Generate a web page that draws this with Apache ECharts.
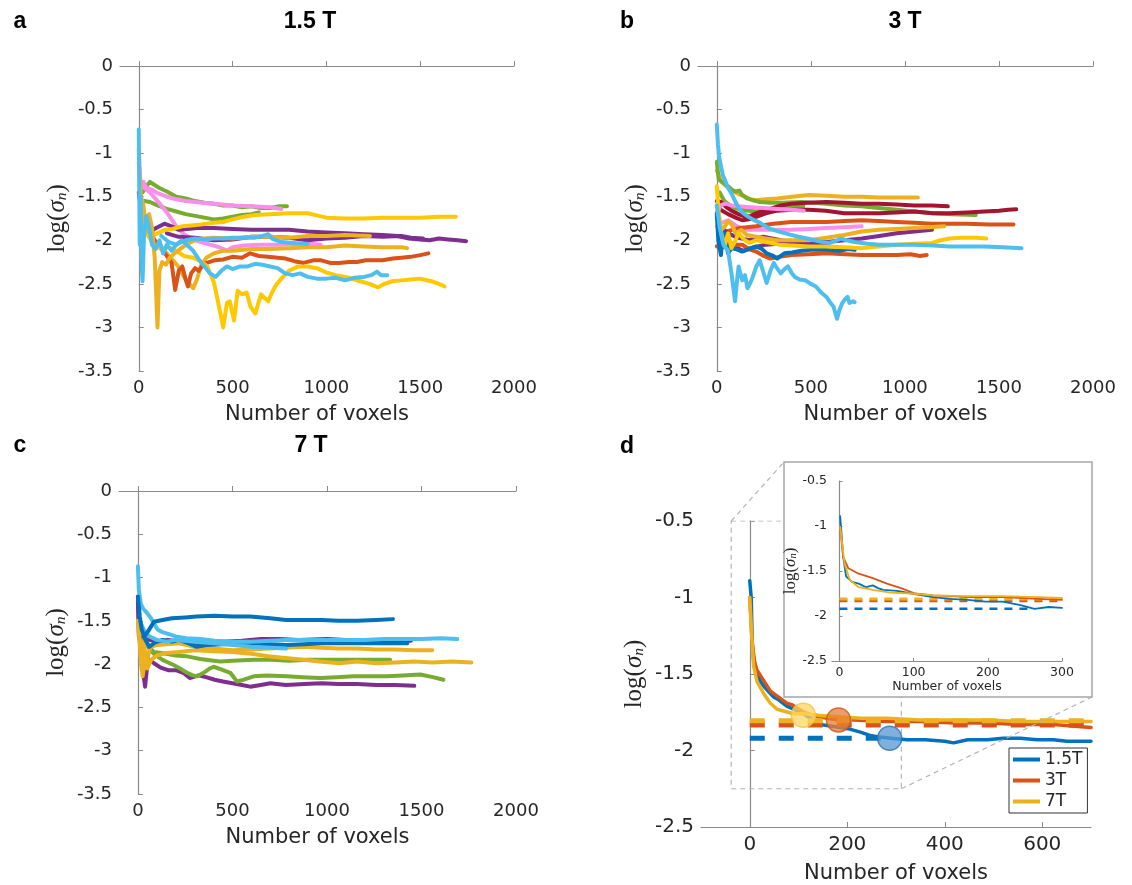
<!DOCTYPE html>
<html>
<head>
<meta charset="utf-8">
<script src="https://cdn.jsdelivr.net/npm/echarts@6/dist/echarts.min.js"></script>
<style>
  html, body { margin: 0; padding: 0; background: #fff; }
  #chart { width: 1132px; height: 885px; }
</style>
</head>
<body>
<div id="chart"></div>
<script>
// tick values
const xTicksMain = [0, 500, 1000, 1500, 2000];
const yTicksMain = [0, -0.5, -1, -1.5, -2, -2.5, -3, -3.5];
const xTicksD = [0, 200, 400, 600];
const yTicksD = [-0.5, -1, -1.5, -2, -2.5];
const xTicksInset = [0, 100, 200, 300];
const yTicksInset = [-0.5, -1, -1.5, -2, -2.5];

// panel a: 1.5 T  ([voxels, log sigma])
const aGreen1 = [[20,-1.45],[40,-1.38],[60,-1.33],[80,-1.36],[110,-1.4],[150,-1.44],[200,-1.5],[250,-1.52],[300,-1.55],[350,-1.57],[400,-1.58],[450,-1.6],[500,-1.6],[550,-1.62],[600,-1.61],[650,-1.63],[700,-1.63],[750,-1.61],[790,-1.61]];
const aGreen2 = [[30,-1.55],[60,-1.56],[100,-1.6],[150,-1.64],[200,-1.67],[250,-1.7],[300,-1.72],[350,-1.74],[400,-1.76],[450,-1.75],[500,-1.73],[550,-1.71],[600,-1.7],[640,-1.68]];
const aPink1 = [[0,-0.95],[8,-1.3],[15,-1.38],[25,-1.33],[40,-1.4],[70,-1.42],[100,-1.46],[150,-1.5],[200,-1.53],[250,-1.55],[300,-1.56],[400,-1.58],[500,-1.6],[600,-1.61],[700,-1.62],[760,-1.64]];
const aPink2 = [[30,-1.4],[60,-1.45],[100,-1.55],[150,-1.68],[200,-1.84],[240,-1.93],[280,-1.98],[330,-2.02],[380,-2.05],[430,-2.08],[470,-2.12],[500,-2.08],[560,-2.06],[650,-2.05],[750,-2.05],[850,-2.04],[920,-2.04],[970,-2.05]];
const aPurple1 = [[0,-1.45],[15,-1.7],[30,-1.85],[60,-1.9],[100,-1.85],[137,-1.81],[175,-1.84],[213,-1.88],[260,-1.87],[310,-1.86],[400,-1.86],[500,-1.87],[600,-1.88],[700,-1.88],[800,-1.88],[900,-1.9],[1000,-1.91],[1100,-1.92],[1200,-1.93],[1300,-1.94],[1380,-1.95],[1440,-1.98],[1500,-1.99],[1550,-2.0],[1600,-1.98],[1650,-1.99],[1700,-2.0],[1745,-2.01]];
const aPurple2 = [[150,-1.92],[213,-1.96],[300,-1.97],[400,-2.0],[500,-1.99],[600,-1.96],[700,-1.96],[800,-1.97],[900,-2.0],[1000,-1.98],[1100,-1.97],[1200,-1.95],[1300,-1.96],[1400,-1.95],[1450,-1.97],[1515,-1.98]];
const aGold1 = [[0,-1.1],[12,-1.5],[25,-1.6],[40,-1.9],[55,-1.7],[70,-1.85],[85,-2.2],[100,-3.0],[110,-2.35],[125,-2.25],[145,-2.28],[165,-2.2],[190,-2.15],[220,-2.1],[260,-2.04],[300,-2.0],[350,-1.98],[400,-1.97],[500,-1.98],[600,-1.96],[700,-1.96],[800,-1.97],[900,-1.95],[1000,-1.95],[1100,-1.94],[1232,-1.95]];
const aGold2 = [[10,-1.55],[40,-1.8],[80,-2.0],[130,-2.1],[170,-2.2],[210,-2.3],[250,-2.45],[270,-2.5],[290,-2.55],[310,-2.45],[330,-2.3],[360,-2.2],[400,-2.15],[450,-2.12],[500,-2.12],[600,-2.1],[700,-2.1],[800,-2.09],[900,-2.08],[1000,-2.08],[1100,-2.06],[1200,-2.07],[1300,-2.08],[1400,-2.08],[1430,-2.09]];
const aOrange = [[40,-1.75],[70,-1.95],[100,-2.05],[140,-2.15],[175,-2.26],[194,-2.57],[213,-2.35],[232,-2.3],[250,-2.45],[262,-2.53],[279,-2.38],[300,-2.32],[320,-2.35],[346,-2.27],[403,-2.23],[450,-2.22],[498,-2.19],[550,-2.2],[593,-2.15],[640,-2.18],[688,-2.19],[740,-2.2],[783,-2.21],[830,-2.24],[878,-2.26],[930,-2.23],[973,-2.23],[1020,-2.26],[1068,-2.26],[1120,-2.25],[1163,-2.25],[1210,-2.23],[1258,-2.23],[1300,-2.23],[1354,-2.21],[1400,-2.2],[1449,-2.19],[1500,-2.17],[1544,-2.15]];
const aYellowLo = [[20,-1.7],[50,-1.95],[80,-2.05],[120,-2.1],[160,-2.08],[200,-2.12],[240,-2.18],[290,-2.2],[330,-2.24],[365,-2.3],[400,-2.48],[420,-2.68],[450,-3.0],[470,-2.72],[485,-2.7],[508,-2.92],[527,-2.58],[550,-2.62],[575,-2.6],[595,-2.76],[622,-2.84],[640,-2.7],[652,-2.62],[670,-2.66],[690,-2.7],[710,-2.6],[730,-2.52],[760,-2.44],[800,-2.35],[850,-2.3],[900,-2.3],[950,-2.32],[1000,-2.37],[1050,-2.4],[1120,-2.43],[1180,-2.47],[1230,-2.5],[1275,-2.54],[1310,-2.5],[1350,-2.47],[1400,-2.46],[1450,-2.45],[1500,-2.44],[1560,-2.47],[1600,-2.5],[1630,-2.53]];
const aYellowHi = [[10,-1.6],[25,-1.78],[45,-1.92],[70,-1.95],[100,-1.92],[140,-1.88],[180,-1.87],[230,-1.84],[280,-1.83],[330,-1.82],[400,-1.8],[450,-1.79],[500,-1.76],[560,-1.73],[620,-1.71],[700,-1.7],[800,-1.69],[900,-1.69],[960,-1.72],[1000,-1.74],[1100,-1.75],[1200,-1.75],[1300,-1.74],[1400,-1.74],[1500,-1.74],[1600,-1.73],[1690,-1.73]];
const aLBlue2 = [[120,-1.95],[160,-2.02],[200,-2.05],[250,-2.0],[300,-1.98],[350,-1.99],[400,-1.98],[450,-1.98],[500,-1.97],[560,-1.97],[620,-1.97],[660,-1.95],[690,-1.93],[710,-1.98],[760,-2.02],[820,-2.03],[870,-2.04],[900,-2.04]];
const aLBlue1 = [[0,-0.73],[3,-1.5],[5,-2.05],[10,-1.5],[14,-2.2],[20,-2.47],[28,-1.95],[40,-1.72],[55,-1.85],[70,-2.05],[90,-2.1],[110,-2.0],[130,-2.15],[150,-2.05],[175,-2.12],[200,-2.05],[230,-2.0],[260,-2.06],[290,-2.12],[320,-2.22],[350,-2.3],[380,-2.38],[410,-2.42],[440,-2.35],[470,-2.3],[500,-2.33],[540,-2.3],[580,-2.3],[620,-2.27],[660,-2.28],[700,-2.3],[740,-2.32],[780,-2.38],[820,-2.4],[860,-2.38],[900,-2.42],[950,-2.44],[1000,-2.44],[1050,-2.43],[1100,-2.46],[1150,-2.43],[1200,-2.42],[1240,-2.4],[1270,-2.36],[1290,-2.4],[1325,-2.4]];

// panel b: 3 T
const bGold1 = [[0,-1.2],[22,-1.31],[50,-1.38],[78,-1.42],[115,-1.47],[153,-1.5],[180,-1.53],[209,-1.54],[260,-1.53],[321,-1.52],[400,-1.5],[490,-1.48],[583,-1.49],[677,-1.5],[770,-1.5],[863,-1.51],[960,-1.51],[1069,-1.51]];
const bGreen1 = [[0,-1.1],[10,-1.3],[25,-1.33],[45,-1.36],[60,-1.38],[80,-1.42],[100,-1.44],[120,-1.43],[135,-1.48],[160,-1.52],[191,-1.54],[230,-1.56],[284,-1.57],[350,-1.57],[450,-1.56],[583,-1.58],[680,-1.6],[770,-1.61],[860,-1.63],[957,-1.65],[1050,-1.67],[1144,-1.69],[1250,-1.7],[1377,-1.71]];
const bGreen2 = [[15,-1.45],[40,-1.55],[70,-1.6],[100,-1.63],[130,-1.65],[170,-1.66],[210,-1.67],[260,-1.65],[320,-1.63],[400,-1.62],[460,-1.61]];
const bDkRed1 = [[0,-1.55],[22,-1.56],[50,-1.62],[78,-1.66],[115,-1.7],[153,-1.73],[180,-1.72],[209,-1.69],[250,-1.66],[284,-1.64],[340,-1.6],[396,-1.58],[480,-1.57],[583,-1.56],[680,-1.57],[770,-1.58],[860,-1.58],[957,-1.59],[1050,-1.6],[1144,-1.6],[1228,-1.61]];
const bDkRed2 = [[0,-1.6],[20,-1.65],[60,-1.7],[100,-1.74],[135,-1.77],[170,-1.76],[209,-1.73],[260,-1.69],[321,-1.66],[400,-1.65],[490,-1.65],[580,-1.66],[677,-1.69],[770,-1.69],[863,-1.69],[950,-1.68],[1050,-1.67],[1150,-1.69],[1237,-1.69],[1330,-1.68],[1424,-1.67],[1500,-1.66],[1550,-1.65],[1592,-1.645]];
const bPink1 = [[0,-1.69],[20,-1.6],[45,-1.58],[80,-1.6],[120,-1.61],[180,-1.62],[247,-1.63],[320,-1.64],[396,-1.65],[462,-1.66]];
const bPink2 = [[0,-1.84],[25,-1.8],[60,-1.77],[100,-1.83],[153,-1.88],[220,-1.88],[300,-1.88],[396,-1.88],[490,-1.87],[583,-1.86],[680,-1.85],[770,-1.84]];
const bOrange1 = [[0,-1.75],[20,-1.85],[50,-1.9],[80,-1.88],[120,-1.86],[160,-1.85],[209,-1.84],[300,-1.81],[396,-1.79],[490,-1.79],[583,-1.79],[680,-1.78],[770,-1.77],[860,-1.78],[957,-1.79],[1050,-1.8],[1144,-1.81],[1240,-1.81],[1331,-1.81],[1450,-1.82],[1577,-1.82]];
const bPurple1 = [[0,-1.73],[20,-1.85],[60,-1.92],[110,-1.97],[172,-2.0],[247,-1.96],[320,-1.99],[396,-2.02],[490,-2.02],[583,-2.02],[680,-2.0],[770,-1.98],[863,-1.95],[957,-1.92],[1050,-1.9],[1144,-1.88]];
const bPurple2 = [[20,-1.9],[60,-2.0],[100,-2.08],[140,-2.12],[200,-2.08],[260,-2.05],[320,-2.04],[400,-2.03],[480,-2.04],[580,-2.05]];
const bGold2 = [[10,-1.7],[22,-1.88],[40,-1.85],[60,-1.78],[80,-1.82],[100,-1.92],[130,-1.88],[160,-1.94],[209,-1.96],[260,-1.98],[321,-2.0],[400,-2.0],[490,-2.0],[583,-1.97],[677,-1.94],[770,-1.9],[863,-1.88],[950,-1.87],[1050,-1.86],[1130,-1.85],[1209,-1.84]];
const bOrange2 = [[0,-2.07],[22,-2.09],[60,-2.06],[100,-2.05],[135,-2.05],[170,-2.1],[209,-2.13],[250,-2.18],[284,-2.21],[330,-2.19],[396,-2.17],[490,-2.16],[583,-2.15],[680,-2.16],[770,-2.17],[860,-2.17],[957,-2.17],[1030,-2.16],[1080,-2.18],[1116,-2.17]];
const bBlue = [[0,-1.69],[8,-2.0],[22,-2.17],[30,-1.95],[41,-1.92],[60,-2.15],[78,-2.09],[100,-2.1],[135,-2.13],[170,-2.1],[209,-2.07],[240,-2.1],[265,-2.15],[300,-2.18],[321,-2.21],[359,-2.15],[400,-2.14],[450,-2.12],[500,-2.11],[583,-2.11],[650,-2.12],[700,-2.1],[733,-2.11]];
const bYellow = [[0,-1.38],[10,-1.69],[22,-1.9],[41,-2.07],[60,-1.92],[78,-2.09],[100,-2.0],[115,-1.92],[150,-2.0],[172,-2.03],[209,-2.0],[260,-2.02],[330,-2.05],[400,-2.06],[490,-2.07],[583,-2.07],[680,-2.08],[770,-2.09],[863,-2.07],[957,-2.05],[1050,-2.04],[1144,-2.03],[1190,-2.0],[1237,-1.98],[1300,-1.97],[1380,-1.97],[1433,-1.98]];
const bLBlue2 = [[0,-1.6],[15,-1.85],[35,-2.05],[60,-2.12],[78,-2.38],[97,-2.7],[108,-2.45],[116,-2.3],[135,-2.46],[150,-2.4],[163,-2.55],[180,-2.48],[191,-2.42],[210,-2.3],[228,-2.23],[245,-2.35],[265,-2.49],[285,-2.35],[303,-2.26],[320,-2.32],[340,-2.38],[360,-2.33],[378,-2.3],[400,-2.38],[415,-2.42],[440,-2.45],[471,-2.46],[500,-2.5],[527,-2.53],[555,-2.6],[583,-2.65],[605,-2.72],[620,-2.76],[639,-2.9],[652,-2.8],[667,-2.72],[680,-2.68],[695,-2.65],[705,-2.72],[714,-2.74],[725,-2.7],[733,-2.71]];
const bLBlue1 = [[0,-0.67],[6,-0.9],[13,-1.05],[22,-1.15],[32,-1.25],[45,-1.32],[60,-1.4],[80,-1.47],[97,-1.55],[115,-1.62],[135,-1.68],[160,-1.72],[190,-1.76],[230,-1.8],[284,-1.87],[330,-1.9],[380,-1.93],[434,-1.96],[480,-1.98],[520,-2.0],[560,-2.02],[600,-2.03],[640,-2.0],[660,-1.98],[690,-2.0],[733,-2.02],[800,-2.04],[863,-2.05],[950,-2.05],[1050,-2.05],[1150,-2.06],[1237,-2.07],[1330,-2.07],[1424,-2.07],[1520,-2.08],[1620,-2.09]];

// panel c: 7 T
const cPurple1 = [[0,-1.3],[5,-1.68],[15,-1.76],[30,-1.7],[60,-1.72],[100,-1.74],[160,-1.72],[250,-1.75],[350,-1.76],[450,-1.74],[550,-1.73],[650,-1.71],[750,-1.71],[850,-1.72],[1000,-1.71],[1100,-1.72],[1200,-1.72],[1300,-1.73],[1380,-1.73],[1444,-1.73]];
const cPurple2 = [[0,-1.22],[8,-1.6],[18,-1.91],[28,-2.1],[38,-2.26],[50,-2.0],[62,-1.95],[85,-1.99],[120,-2.04],[160,-2.07],[200,-2.07],[240,-2.1],[274,-2.16],[320,-2.13],[360,-2.15],[406,-2.18],[450,-2.2],[500,-2.22],[550,-2.24],[594,-2.26],[650,-2.24],[700,-2.22],[783,-2.24],[880,-2.23],[972,-2.22],[1060,-2.23],[1160,-2.23],[1260,-2.24],[1360,-2.24],[1462,-2.25]];
const cGreen1 = [[20,-1.6],[50,-1.78],[84,-1.86],[150,-1.88],[200,-1.9],[260,-1.91],[330,-1.94],[400,-1.96],[436,-1.97],[500,-1.96],[612,-1.95],[700,-1.95],[800,-1.96],[900,-1.95],[965,-1.95],[1100,-1.95],[1200,-1.95],[1334,-1.95]];
const cGreen2 = [[30,-1.7],[60,-1.82],[84,-1.88],[130,-1.95],[189,-2.01],[230,-2.06],[260,-2.1],[290,-2.13],[313,-2.14],[348,-2.1],[380,-2.05],[401,-2.03],[440,-2.06],[489,-2.1],[524,-2.2],[560,-2.18],[612,-2.14],[680,-2.13],[789,-2.14],[870,-2.15],[965,-2.16],[1050,-2.15],[1141,-2.14],[1230,-2.14],[1317,-2.14],[1400,-2.13],[1493,-2.12],[1560,-2.15],[1616,-2.18]];
const cGold1 = [[0,-1.5],[10,-1.76],[20,-2.07],[30,-1.72],[45,-1.99],[66,-1.8],[100,-1.78],[150,-1.77],[217,-1.76],[300,-1.8],[400,-1.82],[500,-1.84],[600,-1.83],[689,-1.82],[780,-1.81],[877,-1.8],[970,-1.81],[1060,-1.82],[1160,-1.82],[1260,-1.83],[1360,-1.83],[1460,-1.84],[1557,-1.84]];
const cGold2 = [[5,-1.6],[15,-1.91],[25,-2.14],[35,-1.99],[50,-2.05],[70,-1.95],[100,-1.9],[150,-1.87],[217,-1.86],[300,-1.84],[400,-1.85],[500,-1.86],[600,-1.88],[689,-1.91],[780,-1.93],[877,-1.95],[960,-1.97],[1066,-1.99],[1160,-1.97],[1260,-1.99],[1360,-1.98],[1460,-1.97],[1560,-1.98],[1660,-1.97],[1764,-1.98]];
const cBlue2 = [[30,-1.68],[60,-1.8],[90,-1.75],[130,-1.72],[180,-1.74],[217,-1.72],[270,-1.76],[311,-1.8],[360,-1.78],[450,-1.77],[594,-1.76],[700,-1.77],[783,-1.78],[880,-1.77],[972,-1.76],[1060,-1.76],[1160,-1.76],[1300,-1.76],[1425,-1.76]];
const cLBlue2 = [[10,-1.5],[30,-1.6],[60,-1.68],[100,-1.72],[150,-1.74],[200,-1.72],[300,-1.74],[406,-1.76],[500,-1.78],[600,-1.8],[700,-1.81],[783,-1.82]];
const cLBlue1 = [[0,-0.87],[5,-1.14],[15,-1.3],[28,-1.36],[45,-1.4],[66,-1.46],[85,-1.53],[104,-1.6],[130,-1.63],[160,-1.65],[200,-1.68],[255,-1.7],[330,-1.71],[406,-1.73],[500,-1.74],[594,-1.74],[700,-1.73],[783,-1.72],[880,-1.72],[972,-1.72],[1100,-1.72],[1200,-1.72],[1300,-1.71],[1400,-1.71],[1500,-1.71],[1600,-1.7],[1689,-1.71]];
const cBlue1 = [[0,-1.22],[10,-1.45],[20,-1.6],[35,-1.68],[57,-1.61],[85,-1.51],[130,-1.49],[179,-1.47],[250,-1.46],[311,-1.45],[406,-1.44],[500,-1.45],[594,-1.45],[700,-1.47],[783,-1.49],[880,-1.49],[972,-1.49],[1060,-1.5],[1160,-1.5],[1260,-1.49],[1349,-1.48]];

// panel d: median curves, reference levels and knee points
const dBlue = [[0,-0.89],[3,-1.0],[5,-1.28],[8,-1.41],[15,-1.5],[22,-1.55],[29,-1.58],[40,-1.62],[49,-1.65],[60,-1.67],[76,-1.71],[90,-1.73],[110,-1.76],[130,-1.8],[145,-1.83],[165,-1.84],[186,-1.85],[205,-1.86],[227,-1.88],[245,-1.9],[261,-1.91],[290,-1.92],[323,-1.93],[360,-1.93],[400,-1.94],[418,-1.95],[447,-1.93],[487,-1.93],[520,-1.92],[555,-1.92],[590,-1.93],[623,-1.93],[650,-1.94],[680,-1.94],[700,-1.94]];
const dOrange = [[0,-1.0],[5,-1.3],[10,-1.42],[14,-1.47],[28,-1.54],[42,-1.61],[50,-1.63],[76,-1.69],[86,-1.7],[111,-1.75],[140,-1.78],[182,-1.8],[213,-1.8],[280,-1.81],[350,-1.81],[420,-1.82],[487,-1.82],[555,-1.83],[623,-1.83],[660,-1.84],[700,-1.85]];
const dYellow = [[0,-1.0],[4,-1.25],[8,-1.45],[15,-1.55],[29,-1.63],[42,-1.69],[56,-1.73],[90,-1.76],[110,-1.76],[140,-1.77],[179,-1.78],[230,-1.79],[282,-1.79],[350,-1.8],[418,-1.8],[487,-1.8],[555,-1.81],[623,-1.81],[700,-1.81]];
const dBlueRef = [[0,-1.92],[290,-1.92]];
const dOrangeRef = [[0,-1.83],[700,-1.83]];
const dYellowRef = [[0,-1.805],[700,-1.805]];
const dBlueKnee = [[287,-1.92]];
const dOrangeKnee = [[182,-1.8]];
const dYellowKnee = [[110,-1.77]];
const zoomBoxX = [-38, 311];
const zoomBoxY = [-0.5, -2.25];

// inset of panel d (first 300 voxels)
const iBlue = [[1,-0.89],[3,-1.1],[5,-1.34],[9,-1.56],[17,-1.62],[26,-1.64],[36,-1.68],[45,-1.66],[52,-1.69],[59,-1.71],[78,-1.72],[97,-1.75],[126,-1.79],[149,-1.81],[173,-1.82],[197,-1.84],[220,-1.84],[244,-1.88],[263,-1.92],[282,-1.9],[300,-1.91]];
const iOrange = [[1,-1.01],[5,-1.34],[12,-1.47],[26,-1.53],[45,-1.58],[64,-1.64],[83,-1.69],[102,-1.75],[126,-1.77],[150,-1.78],[173,-1.79],[220,-1.79],[268,-1.81],[300,-1.82]];
const iYellow = [[1,-1.01],[7,-1.42],[14,-1.6],[26,-1.68],[45,-1.71],[69,-1.74],[97,-1.75],[126,-1.77],[173,-1.78],[220,-1.78],[268,-1.79],[300,-1.8]];
const iBlueRef = [[0,-1.92],[255,-1.92]];
const iOrangeRef = [[0,-1.83],[300,-1.83]];
const iYellowRef = [[0,-1.81],[300,-1.81]];

// MATLAB-like colours
const C = {
  blue: '#0072BD', orange: '#D95319', gold: '#EDB120', purple: '#7E2F8E',
  green: '#77AC30', lblue: '#4DBEEE', dkred: '#A2142F', pink: '#F98FEB', yellow: '#FFC800'
};
const axisColor = '#8a8a8a';
const textColor = '#262626';
const sans = 'DejaVu Sans';
const serif = 'Liberation Serif';

const chart = echarts.init(document.getElementById('chart'), null, { renderer: 'canvas' });

const line = (grid, data, color, width, extra) => Object.assign({
  type: 'line', xAxisIndex: grid, yAxisIndex: grid, data,
  showSymbol: false, symbol: 'none', silent: true, animation: false,
  lineStyle: { color, width, join: 'round', cap: 'round' }, itemStyle: { color }
}, extra || {});

// log(sigma_n) label
const logName = (size) => ({
  name: '{a|log(}{b|σ}{c|n}{a|)}',
  style: {
    color: textColor,
    rich: {
      a: { fontFamily: serif, fontSize: size, color: textColor, verticalAlign: 'bottom', lineHeight: size * 1.2 },
      b: { fontFamily: serif, fontSize: size, fontStyle: 'italic', color: textColor, verticalAlign: 'bottom', lineHeight: size * 1.2 },
      c: { fontFamily: serif, fontSize: size * 0.62, fontStyle: 'italic', color: textColor, verticalAlign: 'bottom', lineHeight: size * 0.62 }
    }
  }
});

const plain = (v) => String(v);

const xAxisOf = (grid, min, max, ticks, fs, nameFs, nameGap, z) => ({
  gridIndex: grid, type: 'value', min, max, z: z || 0,
  name: 'Number of voxels', nameLocation: 'middle', nameGap,
  nameTextStyle: { fontFamily: sans, fontSize: nameFs, color: textColor },
  axisLine: { lineStyle: { color: axisColor, width: 1.2 } },
  axisTick: { inside: true, length: grid === 4 ? 3 : 5, customValues: ticks, lineStyle: { color: axisColor } },
  axisLabel: { customValues: ticks, formatter: plain, fontFamily: sans, fontSize: fs, color: textColor, margin: grid === 4 ? 5 : 8 },
  splitLine: { show: false }
});

const yAxisOf = (grid, min, max, ticks, fs, nameFs, nameGap, z) => {
  const ln = logName(nameFs);
  return {
    gridIndex: grid, type: 'value', min, max, z: z || 0,
    name: ln.name, nameLocation: 'middle', nameGap, nameTextStyle: ln.style,
    axisLine: { lineStyle: { color: axisColor, width: 1.2 } },
    axisTick: { inside: true, length: grid === 4 ? 3 : 5, customValues: ticks, lineStyle: { color: axisColor } },
    axisLabel: { customValues: ticks, formatter: plain, fontFamily: sans, fontSize: fs, color: textColor, margin: grid === 4 ? 5 : 7 },
    splitLine: { show: false }
  };
};

const W = 4;
const dashRef = (data, color, width, dash, z) =>
  line(3, data, color, width, { lineStyle: { color, width, type: dash }, z });

const series = [
  // a
  line(0, aGreen1, C.green, W), line(0, aGreen2, C.green, W),
  line(0, aPink1, C.pink, W), line(0, aPink2, C.pink, W),
  line(0, aPurple2, C.purple, W), line(0, aPurple1, C.purple, W),
  line(0, aGold2, C.gold, W), line(0, aOrange, C.orange, W),
  line(0, aYellowLo, C.yellow, W), line(0, aYellowHi, C.yellow, W),
  line(0, aGold1, C.gold, W), line(0, aLBlue2, C.lblue, W), line(0, aLBlue1, C.lblue, W),
  // b
  line(1, bGold1, C.gold, W), line(1, bGreen1, C.green, W), line(1, bGreen2, C.green, W),
  line(1, bDkRed1, C.dkred, W), line(1, bDkRed2, C.dkred, W),
  line(1, bPink1, C.pink, W), line(1, bPink2, C.pink, W),
  line(1, bOrange1, C.orange, W), line(1, bPurple1, C.purple, W), line(1, bPurple2, C.purple, W),
  line(1, bGold2, C.gold, W), line(1, bOrange2, C.orange, W), line(1, bBlue, C.blue, W),
  line(1, bYellow, C.yellow, W), line(1, bLBlue2, C.lblue, W), line(1, bLBlue1, C.lblue, W),
  // c
  line(2, cPurple1, C.purple, W), line(2, cPurple2, C.purple, W),
  line(2, cGreen1, C.green, W), line(2, cGreen2, C.green, W),
  line(2, cGold1, C.gold, W), line(2, cGold2, C.gold, W),
  line(2, cBlue2, C.blue, W), line(2, cLBlue2, C.lblue, W),
  line(2, cLBlue1, C.lblue, W), line(2, cBlue1, C.blue, W),
  // d: zoom box
  line(3, [[zoomBoxX[0], zoomBoxY[0]], [zoomBoxX[1], zoomBoxY[0]], [zoomBoxX[1], zoomBoxY[1]], [zoomBoxX[0], zoomBoxY[1]], [zoomBoxX[0], zoomBoxY[0]]],
    '#b4b4b4', 1.2, { lineStyle: { color: '#b4b4b4', width: 1.2, type: [5, 4] }, z: 1 }),
  // d: curves
  line(3, dBlue, C.blue, 3.5, { name: '1.5T' }),
  line(3, dOrange, C.orange, 3.5, { name: '3T' }),
  line(3, dYellow, C.gold, 3.5, { name: '7T' }),
  // d: reference levels (drawn over the curves)
  dashRef(dBlueRef, C.blue, 5, [15, 14], 3),
  dashRef(dOrangeRef, C.orange, 6, [15, 14], 3),
  dashRef(dYellowRef, C.gold, 5, [15, 14], 3),
  // d: knee points
  { type: 'scatter', xAxisIndex: 3, yAxisIndex: 3, data: dYellowKnee, symbolSize: 24, silent: true, animation: false,
    itemStyle: { color: 'rgba(255,214,96,0.92)', borderColor: '#F5C242', borderWidth: 1.5 }, z: 5 },
  { type: 'scatter', xAxisIndex: 3, yAxisIndex: 3, data: dOrangeKnee, symbolSize: 24, silent: true, animation: false,
    itemStyle: { color: 'rgba(232,126,52,0.95)', borderColor: '#C8561C', borderWidth: 1.5 }, z: 5 },
  { type: 'scatter', xAxisIndex: 3, yAxisIndex: 3, data: dBlueKnee, symbolSize: 24, silent: true, animation: false,
    itemStyle: { color: 'rgba(88,152,212,0.95)', borderColor: '#2D6FB0', borderWidth: 1.5 }, z: 5 },
  // inset
  line(4, iBlueRef, C.blue, 2.5, { lineStyle: { color: C.blue, width: 2.5, type: [8, 7] }, z: 21 }),
  line(4, iOrangeRef, C.orange, 3, { lineStyle: { color: C.orange, width: 3, type: [8, 7] }, z: 21 }),
  line(4, iYellowRef, C.gold, 3, { lineStyle: { color: C.gold, width: 3, type: [8, 7] }, z: 21 }),
  line(4, iBlue, C.blue, 1.8, { z: 22 }),
  line(4, iOrange, C.orange, 1.8, { z: 22 }),
  line(4, iYellow, C.gold, 1.8, { z: 22 })
];

const option = {
  backgroundColor: '#fff',
  animation: false,
  grid: [
    { left: 120, top: 66, width: 394, height: 305 },
    { left: 698, top: 66, width: 395, height: 305 },
    { left: 119, top: 491, width: 397, height: 303 },
    { left: 701, top: 521, width: 390, height: 306 },
    { left: 832, top: 481, width: 230, height: 180 }
  ],
  xAxis: [
    xAxisOf(0, -100, 2000, xTicksMain, 18, 21, 33),
    xAxisOf(1, -100, 2000, xTicksMain, 18, 21, 33),
    xAxisOf(2, -100, 2000, xTicksMain, 18, 21, 33),
    xAxisOf(3, -100, 700, xTicksD, 20, 21, 36),
    xAxisOf(4, -10, 300, xTicksInset, 12.5, 12.5, 19, 20)
  ],
  yAxis: [
    yAxisOf(0, -3.5, 0, yTicksMain, 18, 25, 50),
    yAxisOf(1, -3.5, 0, yTicksMain, 18, 25, 50),
    yAxisOf(2, -3.5, 0, yTicksMain, 18, 25, 50),
    yAxisOf(3, -2.5, -0.5, yTicksD, 20, 25, 54),
    yAxisOf(4, -2.5, -0.5, yTicksInset, 12.5, 17, 29, 20)
  ],
  legend: {
    data: ['1.5T', '3T', '7T'], orient: 'vertical', left: 1009, top: 748,
    icon: 'rect', itemWidth: 27, itemHeight: 4, itemGap: 4, selectedMode: false,
    padding: [3, 5, 3, 4], borderColor: '#333', borderWidth: 1, backgroundColor: '#fff',
    textStyle: { fontFamily: sans, fontSize: 17, color: textColor }, z: 6
  },
  series
};

chart.setOption(option);

// titles, inset frame and zoom connectors
const tl = chart.convertToPixel({ gridIndex: 3 }, [zoomBoxX[0], zoomBoxY[0]]);
const br = chart.convertToPixel({ gridIndex: 3 }, [zoomBoxX[1], zoomBoxY[1]]);
const inset = { x: 784, y: 462, w: 308, h: 235 };
const titleFont = 'bold 23px "Liberation Sans", Arial, sans-serif';
const txt = (text, x, y) => ({ type: 'text', x, y, z: 30, silent: true,
  style: { text, font: titleFont, fill: '#000', align: 'center', verticalAlign: 'middle' } });

chart.setOption({
  graphic: [
    { type: 'line', z: 9, silent: true, shape: { x1: tl[0], y1: tl[1], x2: inset.x, y2: inset.y },
      style: { stroke: '#b4b4b4', lineWidth: 1.2, lineDash: [5, 4] } },
    { type: 'line', z: 9, silent: true, shape: { x1: br[0], y1: br[1], x2: inset.x + inset.w, y2: inset.y + inset.h },
      style: { stroke: '#b4b4b4', lineWidth: 1.2, lineDash: [5, 4] } },
    { type: 'rect', z: 10, silent: true, shape: { x: inset.x, y: inset.y, width: inset.w, height: inset.h },
      style: { fill: '#fff', stroke: '#a6a6a6', lineWidth: 1.5 } },
    txt('a', 20, 22), txt('1.5 T', 310, 22),
    txt('b', 627, 22), txt('3 T', 905, 22),
    txt('c', 20, 446), txt('7 T', 311, 446),
    txt('d', 627, 447)
  ]
});

window.addEventListener('resize', () => chart.resize());
</script>
</body>
</html>
